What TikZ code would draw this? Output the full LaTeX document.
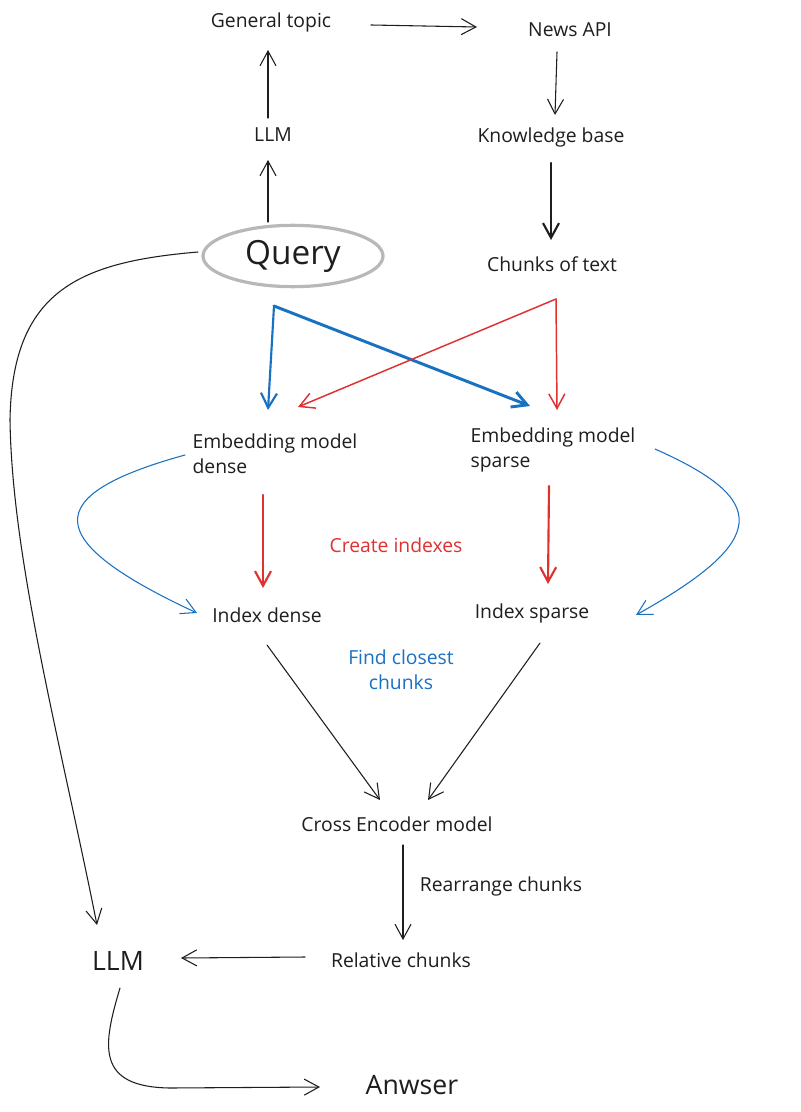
\documentclass[tikz,border=0pt]{standalone}
\usepackage{fontspec}
\setmainfont{Open Sans}
\usetikzlibrary{arrows.meta,shapes.geometric,calc}
\definecolor{xblue}{HTML}{1971C2}
\definecolor{xred}{HTML}{E03131}
\definecolor{xgray}{HTML}{B8B8B8}
\definecolor{xink}{HTML}{1E1E1E}
\begin{document}
\begin{tikzpicture}[x=0.75pt,y=-0.75pt,
  lbl/.style={font=\fontsize{14.5}{18.75}\selectfont, text=xink, inner sep=2pt},
  big/.style={font=\fontsize{20}{24}\selectfont},
  tip/.style={-{Straight Barb[length=11pt,width=12pt]}},
  arr/.style={draw=xink, line width=0.8pt, line cap=round, tip},
  arrthick/.style={draw=xink, line width=1.6pt, line cap=round, tip},
  bluearr/.style={draw=xblue, line width=1.6pt, line cap=round, tip},
  bluethick/.style={draw=xblue, line width=2.2pt, line cap=round, tip},
  bluethin/.style={draw=xblue, line width=0.8pt, line cap=round, tip},
  redarr/.style={draw=xred, line width=1.1pt, line cap=round, tip},
  redthick/.style={draw=xred, line width=1.6pt, line cap=round, tip}]
\useasboundingbox[fill=white] (0,0) rectangle (800,1112);

% nodes
\node[lbl] (gt) at (271,22) {General topic};
\node[lbl] (news) at (570,30) {News API};
\node[lbl] (llm1) at (273,135) {LLM};
\node[lbl] (kb) at (551,137) {Knowledge base};
\node[draw=xgray, line width=2.4pt, ellipse, minimum width=135pt, minimum height=46pt,
      font=\fontsize{25}{30}\selectfont, text=xink] (q) at (293,256) {Query};
\node[lbl] (cot) at (552,264) {Chunks of text};
\node[lbl, align=left] (emd) at (275,454) {Embedding model\\dense};
\node[lbl, align=left] (ems) at (553,450) {Embedding model\\sparse};
\node[lbl, text=xred] (ci) at (396,545) {Create indexes};
\node[lbl] (idd) at (267,615) {Index dense};
\node[lbl] (ids) at (532,613) {Index sparse};
\node[lbl, text=xblue, align=center] (fcc) at (401,670) {Find closest\\chunks};
\node[lbl] (ce) at (397,824) {Cross Encoder model};
\node[lbl] (rc) at (501,886) {Rearrange chunks};
\node[lbl] (rel) at (401,960) {Relative chunks};
\node[lbl, big] (llm2) at (118,961) {LLM};
\node[lbl, big] (ans) at (412,1085) {Anwser};

% connectors
\draw[arr] ($(gt)+(100,3)$) -- ($(news)+(-93,-3)$);
\draw[arr] ($(news)+(-13,22)$) -- ($(kb)+(4,-22)$);
\draw[arrthick] ($(kb)+(0,26)$) -- ($(cot)+(-1,-24)$);
\draw[arr] ($(llm1)+(-5,-17)$) -- ($(gt)+(-3,28)$);
\draw[arr] ($(q)+(-25,-34)$) -- ($(llm1)+(-5,25)$);
\draw[arr] ($(q)+(-95,-4)$) .. controls (80,262) and (12,290) .. (10,420)
   .. controls (12,560) and (60,740) .. ($(llm2)+(-21,-36)$);

\coordinate (bj) at ($(q)+(-19,50)$);
\draw[bluearr] (bj) -- ($(emd)+(-7,-44)$);
\draw[bluethick] (bj) -- ($(ems)+(-23,-44)$);
\coordinate (rj) at ($(cot)+(4,35)$);
\draw[redarr] (rj) -- ($(emd)+(23,-47)$);
\draw[redarr] (rj) -- ($(ems)+(4,-40)$);

\draw[redthick] ($(emd)+(-12,41)$) -- ($(idd)+(-4,-27)$);
\draw[redthick] ($(ems)+(-4,36)$) -- ($(ids)+(16,-29)$);

\draw[bluethin] ($(emd)+(-90,1)$) .. controls (40,495) and (40,540) .. ($(idd)+(-70,-2)$);
\draw[bluethin] ($(ems)+(102,-1)$) .. controls (770,500) and (770,540) .. ($(ids)+(104,2)$);

\draw[arr] ($(idd)+(0,30)$) -- ($(ce)+(-17,-24)$);
\draw[arr] ($(ids)+(8,30)$) -- ($(ce)+(31,-24)$);
\draw[arr] ($(ce)+(6,21)$) -- ($(rel)+(2,-20)$);
\draw[arr] ($(rel)+(-96,-3)$) -- ($(llm2)+(63,-3)$);
\draw[arr] ($(llm2)+(2,27)$) .. controls (103,1045) and (95,1087) .. (170,1088)
   -- ($(ans)+(-92,2)$);
\end{tikzpicture}
\end{document}
